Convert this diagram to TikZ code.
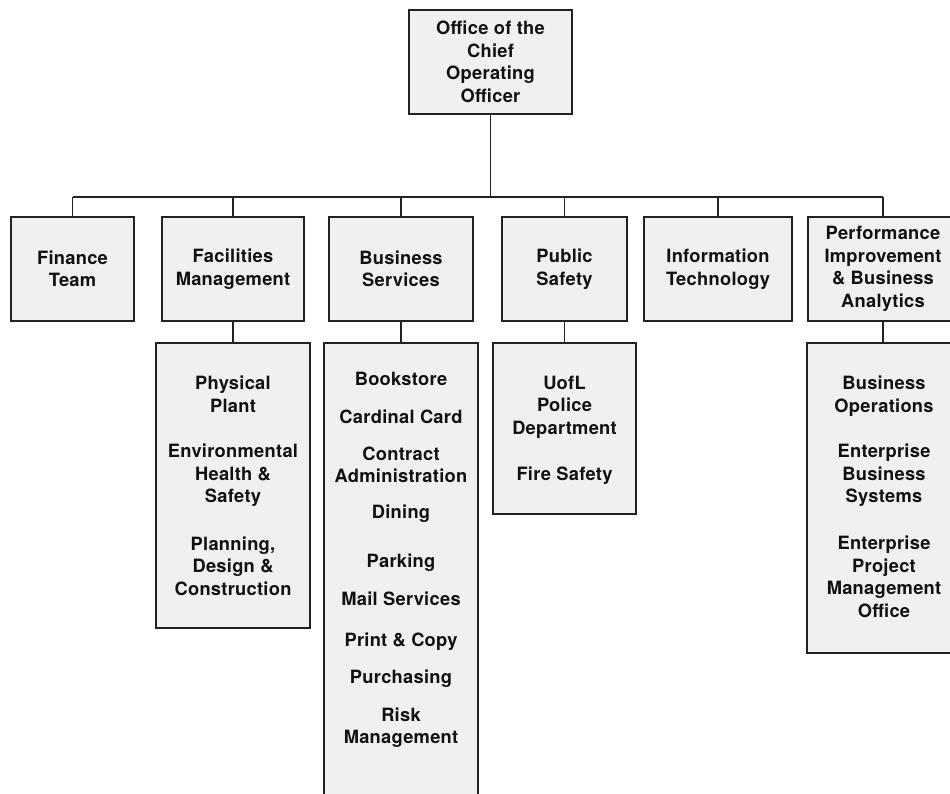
\documentclass[tikz,border=0pt]{standalone}
\usepackage{fontspec}
\setmainfont{TeX Gyre Heros}[LetterSpace=1.5]
\definecolor{boxfill}{HTML}{F0F0F0}
\definecolor{edge}{HTML}{222222}
\definecolor{ink}{HTML}{111111}
\tikzset{
  orgbox/.style={draw=edge, fill=boxfill, line width=1.8pt, inner sep=0pt, align=center,
    text=ink, font=\fontsize{18.3}{22.5}\selectfont\bfseries},
  lbl/.style={align=center, inner sep=0pt, text=ink, font=\fontsize{18.3}{22.5}\selectfont\bfseries},
  conn/.style={draw=edge, line width=1.8pt}
}
\begin{document}
\begin{tikzpicture}[x=1pt,y=-1pt]
\useasboundingbox (0,0) rectangle (950,794);
\fill[white] (0,0) rectangle (950,794);
\clip (0,0) rectangle (950,794);

% top
\node[orgbox, minimum width=163pt, minimum height=104pt] (coo) at (490.5,62) {Office of the\\Chief\\Operating\\Officer};

% second level
\node[orgbox, minimum width=123pt, minimum height=104pt] (fin) at (72.5,269) {Finance\\Team};
\node[orgbox, minimum width=142pt, minimum height=104pt] (fac) at (233,269) {Facilities\\Management};
\node[orgbox, minimum width=144pt, minimum height=104pt] (bsv) at (401,269) {Business\\Services};
\node[orgbox, minimum width=125pt, minimum height=104pt] (pub) at (564.5,269) {Public\\Safety};
\node[orgbox, minimum width=148pt, minimum height=104pt] (it) at (718,269) {Information\\Technology};
\node[orgbox, minimum width=150pt, minimum height=104pt] (piba) at (883,269) {Performance\\Improvement\\\& Business\\Analytics};

% connectors to bus
\coordinate (bus) at (491,197);
\draw[conn] (coo.south) -- (coo.south |- bus);
\draw[conn] (fin.north |- bus) -- (piba.north |- bus);
\foreach \n in {fin,fac,bsv,pub,it,piba} \draw[conn] (\n.north |- bus) -- (\n.north);

% third level boxes
\node[orgbox, minimum width=154pt, minimum height=285pt] (facs) at (233,485.5) {};
\node[orgbox, minimum width=154pt, minimum height=470pt] (bsvs) at (401,578) {};
\node[orgbox, minimum width=143pt, minimum height=171pt] (pubs) at (564.5,428.5) {};
\node[orgbox, minimum width=152pt, minimum height=310pt] (pibas) at (883,498) {};

\draw[conn] (fac.south) -- (facs.north);
\draw[conn] (bsv.south) -- (bsvs.north);
\draw[conn] (pub.south) -- (pubs.north);
\draw[conn] (piba.south) -- (pibas.north);

% facilities texts
\node[lbl] (f1) at (233,394.5) {Physical\\Plant};
\node[lbl] (f2) at (233,475.5) {Environmental\\Health \&\\Safety};
\node[lbl] (f3) at (233,566) {Planning,\\Design \&\\Construction};

% business services texts
\node[lbl] (b1) at (401,378.5) {Bookstore};
\node[lbl] (b2) at (401,416.5) {Cardinal Card};
\node[lbl] (b3) at (401,465) {Contract\\Administration};
\node[lbl] (b4) at (401,513.5) {Dining};
\node[lbl] (b5) at (401,562.5) {Parking};
\node[lbl] (b6) at (401,599) {Mail Services};
\node[lbl] (b7) at (401,641.5) {Print \& Copy};
\node[lbl] (b8) at (401,679) {Purchasing};
\node[lbl] (b9) at (401,727.5) {Risk\\Management};

% public safety texts
\node[lbl] (p1) at (564.5,407) {UofL\\Police\\Department};
\node[lbl] (p2) at (564.5,476) {Fire Safety};

% PIBA texts
\node[lbl] (a1) at (884,396) {Business\\Operations};
\node[lbl] (a2) at (884,475.5) {Enterprise\\Business\\Systems};
\node[lbl] (a3) at (884,577) {Enterprise\\Project\\Management\\Office};
\end{tikzpicture}
\end{document}
